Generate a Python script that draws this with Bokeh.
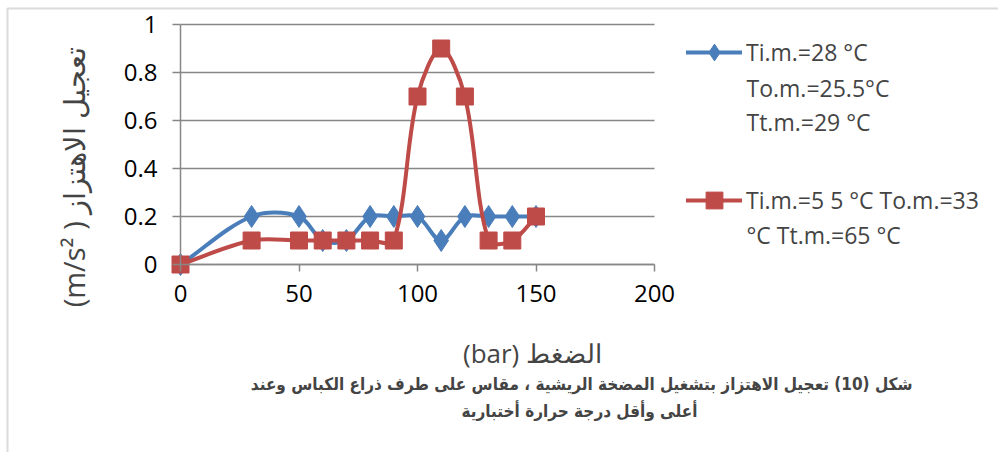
import numpy as np
from bokeh.plotting import figure
from bokeh.models import (Range1d, FixedTicker, Legend, LegendItem, Label,
                          BoxAnnotation)
from bokeh.embed import file_html
from bokeh.resources import INLINE

# pressure (bar) and vibration acceleration (m/s^2)
pressure = [0, 30, 50, 60, 70, 80, 90, 100, 110, 120, 130, 140, 150]
accel_low = [0, 0.2, 0.2, 0.1, 0.1, 0.2, 0.2, 0.2, 0.1, 0.2, 0.2, 0.2, 0.2]
accel_high = [0, 0.1, 0.1, 0.1, 0.1, 0.1, 0.1, 0.7, 0.9, 0.7, 0.1, 0.1, 0.2]

legend_low = ["Ti.m.=28 °C", "To.m.=25.5°C", "Tt.m.=29 °C"]
legend_high = ["Ti.m.=5 5 °C To.m.=33", "°C Tt.m.=65 °C"]

x_ticks = [0, 50, 100, 150, 200]
y_ticks = [0, 0.2, 0.4, 0.6, 0.8, 1]
y_tick_labels = ["0", "0.2", "0.4", "0.6", "0.8", "1"]

x_title = "(bar) الضغط"
y_title = "(m/s²  ) تعجيل الاهتزاز"
caption_1 = "شكل (10) تعجيل الاهتزاز بتشغيل المضخة الريشية ، مقاس على طرف ذراع الكباس وعند"
caption_2 = "أعلى وأقل درجة حرارة أختبارية"

BLUE = "#4a7ebb"
RED = "#be4b48"
GRID = "#878787"
FONT = "Open Sans"
CAPTION_FONT = "DejaVu Sans Condensed"

# page geometry: the plotting frame covers the whole canvas, the axes sit at x=0 / y=0
W, H = 998, 452
X0_PX, X_PX_PER_UNIT = 180, 2.37      # where pressure 0 lands and px per bar
Y0_PX, Y_PX_PER_UNIT = 264, 240       # where acceleration 0 lands and px per m/s^2


def to_x(px):
    return (px - X0_PX) / X_PX_PER_UNIT


def to_y(py):
    return (Y0_PX - py) / Y_PX_PER_UNIT


def smooth_segments(xs, ys):
    """Bezier pieces of a smoothed line through the points; handle length is
    scaled by neighbouring chord lengths (in pixels) to avoid overshoot."""
    x = np.asarray(xs, float)
    y = np.asarray(ys, float)
    n = len(x)
    xp = np.concatenate([[x[0]], x, [x[-1]]])
    yp = np.concatenate([[y[0]], y, [y[-1]]])
    d = np.hypot(np.diff(xp) * X_PX_PER_UNIT, np.diff(yp) * Y_PX_PER_UNIT)
    out = {k: [] for k in ("x0", "y0", "x1", "y1", "cx0", "cy0", "cx1", "cy1")}
    for i in range(n - 1):
        d01, d12, d23 = d[i], d[i + 1], d[i + 2]
        f1 = d12 / (d01 + d12) if d01 + d12 > 0 else 0
        f2 = d12 / (d12 + d23) if d12 + d23 > 0 else 0
        out["x0"].append(x[i]); out["y0"].append(y[i])
        out["x1"].append(x[i + 1]); out["y1"].append(y[i + 1])
        out["cx0"].append(x[i] + (xp[i + 2] - xp[i]) * f1 / 3)
        out["cy0"].append(y[i] + (yp[i + 2] - yp[i]) * f1 / 3)
        out["cx1"].append(x[i + 1] - (xp[i + 3] - xp[i + 1]) * f2 / 3)
        out["cy1"].append(y[i + 1] - (yp[i + 3] - yp[i + 1]) * f2 / 3)
    return out


p = figure(width=W, height=H, output_backend="svg", toolbar_location=None,
           x_range=Range1d(to_x(0), to_x(W)), y_range=Range1d(to_y(H), to_y(0)),
           min_border=0)
p.outline_line_color = None
p.background_fill_color = "white"
p.border_fill_color = "white"

# axes
p.xaxis.fixed_location = 0
p.yaxis.fixed_location = 0
p.xaxis.bounds = (x_ticks[0], x_ticks[-1])
p.yaxis.bounds = (y_ticks[0], y_ticks[-1])
p.xaxis.ticker = FixedTicker(ticks=x_ticks)
p.yaxis.ticker = FixedTicker(ticks=y_ticks)
p.yaxis.major_label_overrides = dict(zip(y_ticks, y_tick_labels))
for ax in (p.xaxis, p.yaxis):
    ax.axis_line_color = GRID
    ax.axis_line_width = 1.5
    ax.major_tick_line_color = GRID
    ax.major_tick_line_width = 1.5
    ax.major_tick_in = 0
    ax.minor_tick_line_color = None
    ax.major_label_text_font = FONT
    ax.major_label_text_font_size = "24px"
    ax.major_label_text_color = "black"
p.xaxis.major_tick_out = 7
p.yaxis.major_tick_out = 8
p.xaxis.major_label_standoff = 13
p.yaxis.major_label_standoff = 15

# horizontal gridlines across the plotting area only
p.xgrid.grid_line_color = None
p.ygrid.grid_line_color = None
p.segment(x0=[x_ticks[0]] * len(y_ticks), x1=[x_ticks[-1]] * len(y_ticks),
          y0=y_ticks, y1=y_ticks, line_color=GRID, line_width=1.5,
          level="underlay")

# series: smoothed lines with markers
seg_low = smooth_segments(pressure, accel_low)
seg_high = smooth_segments(pressure, accel_high)

line_low = p.bezier(line_color=BLUE, line_width=4, line_cap="round", **seg_low)
mark_low = p.scatter(pressure, accel_low, marker="diamond", size=22,
                     fill_color=BLUE, line_color=BLUE)
line_high = p.bezier(line_color=RED, line_width=4, line_cap="round", **seg_high)
mark_high = p.scatter(pressure, accel_high, marker="square", size=17,
                      fill_color=RED, line_color=RED)

legend = Legend(items=[LegendItem(label=legend_low[0], renderers=[line_low, mark_low]),
                       LegendItem(label=legend_high[0], renderers=[line_high, mark_high])],
                location=(686, H - 221), orientation="vertical",
                glyph_width=56, glyph_height=42, label_height=42, label_standoff=4,
                spacing=106, padding=0, margin=0,
                border_line_color=None, background_fill_alpha=0,
                label_text_font=FONT, label_text_font_size="23px")
p.add_layout(legend, "center")

# continuation lines of the legend labels
for text, py in [(legend_low[1], 87), (legend_low[2], 121), (legend_high[1], 234)]:
    p.add_layout(Label(x=to_x(746), y=to_y(py), text=text, text_font=FONT,
                       text_font_size="23px", text_align="left",
                       text_baseline="middle"))

# titles
p.add_layout(Label(x=to_x(532), y=to_y(352), text=x_title,
                   text_font=FONT, text_font_size="26px", text_align="center",
                   text_baseline="middle"))
p.add_layout(Label(x=to_x(73), y=to_y(173), text=y_title,
                   angle=np.pi / 2, text_font=FONT, text_font_size="29px",
                   text_align="center", text_baseline="middle"))
p.add_layout(Label(x=to_x(912), y=to_y(383), text=caption_1,
                   text_font=CAPTION_FONT, text_font_style="bold",
                   text_font_size="17px", text_align="right", text_baseline="middle"))
p.add_layout(Label(x=to_x(697), y=to_y(410), text=caption_2,
                   text_font=CAPTION_FONT, text_font_style="bold",
                   text_font_size="17px", text_align="right", text_baseline="middle"))

# chart border (top and left edges visible)
p.add_layout(BoxAnnotation(left=to_x(7), right=to_x(W + 50), top=to_y(8),
                           bottom=to_y(H + 50), fill_alpha=0,
                           line_color=GRID, line_width=2))

open("out.html", "w").write(file_html(p, INLINE))
